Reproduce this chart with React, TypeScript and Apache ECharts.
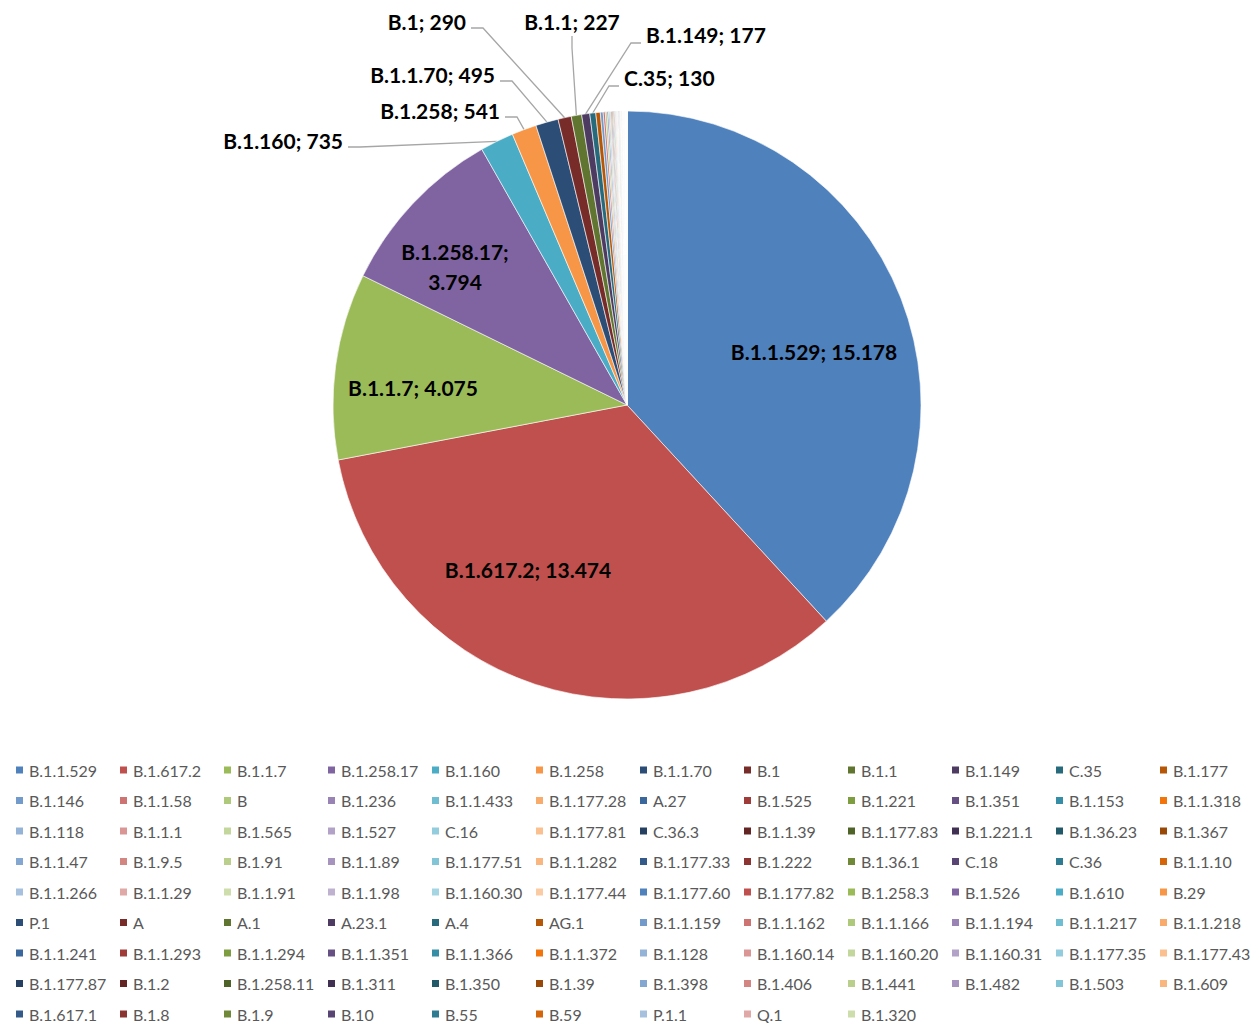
import React, { useEffect, useRef } from "react";
import * as echarts from "echarts";

const categories: string[] = [
  "B.1.1.529", "B.1.617.2", "B.1.1.7", "B.1.258.17", "B.1.160", "B.1.258", "B.1.1.70", "B.1", "B.1.1", "B.1.149", "C.35", "B.1.177",
  "B.1.146", "B.1.1.58", "B", "B.1.236", "B.1.1.433", "B.1.177.28", "A.27", "B.1.525", "B.1.221", "B.1.351", "B.1.153", "B.1.1.318",
  "B.1.118", "B.1.1.1", "B.1.565", "B.1.527", "C.16", "B.1.177.81", "C.36.3", "B.1.1.39", "B.1.177.83", "B.1.221.1", "B.1.36.23", "B.1.367",
  "B.1.1.47", "B.1.9.5", "B.1.91", "B.1.1.89", "B.1.177.51", "B.1.1.282", "B.1.177.33", "B.1.222", "B.1.36.1", "C.18", "C.36", "B.1.1.10",
  "B.1.1.266", "B.1.1.29", "B.1.1.91", "B.1.1.98", "B.1.160.30", "B.1.177.44", "B.1.177.60", "B.1.177.82", "B.1.258.3", "B.1.526", "B.1.610", "B.29",
  "P.1", "A", "A.1", "A.23.1", "A.4", "AG.1", "B.1.1.159", "B.1.1.162", "B.1.1.166", "B.1.1.194", "B.1.1.217", "B.1.1.218",
  "B.1.1.241", "B.1.1.293", "B.1.1.294", "B.1.1.351", "B.1.1.366", "B.1.1.372", "B.1.128", "B.1.160.14", "B.1.160.20", "B.1.160.31", "B.1.177.35", "B.1.177.43",
  "B.1.177.87", "B.1.2", "B.1.258.11", "B.1.311", "B.1.350", "B.1.39", "B.1.398", "B.1.406", "B.1.441", "B.1.482", "B.1.503", "B.1.609",
  "B.1.617.1", "B.1.8", "B.1.9", "B.10", "B.55", "B.59", "P.1.1", "Q.1", "B.1.320",
];

const values: number[] = [
  15178, 13474, 4075, 3794, 735, 541, 495, 290, 227, 177, 130, 98,
  62, 45, 38, 33, 28, 25, 22, 20, 18, 16, 14, 13,
  12, 11, 10, 9, 9, 8, 8, 7, 7, 6, 6, 6,
  5, 5, 5, 5, 4, 4, 4, 4, 4, 4, 3, 3,
  3, 3, 3, 3, 3, 3, 3, 3, 2, 2, 2, 2,
  2, 2, 2, 2, 2, 2, 2, 2, 2, 2, 2, 2,
  2, 2, 2, 2, 2, 1, 1, 1, 1, 1, 1, 1,
  1, 1, 1, 1, 1, 1, 1, 1, 1, 1, 1, 1,
  1, 1, 1, 1, 1, 1, 1, 1, 1,
];

const labeledCount = 11;
const insideCount = 4;

// label spots: [x, y, align] for labelled slices (style/position config)
const labelSpots: [number, number, string][] = [
  [814, 351, "center"],
  [528, 569, "center"],
  [413, 387, "center"],
  [455, 266, "center"],
  [343, 140, "right"],
  [500, 110, "right"],
  [495, 74, "right"],
  [466, 21, "right"],
  [572, 21, "center"],
  [646, 34, "left"],
  [624, 77, "left"],
];

const baseColors = ["#4F81BD", "#C0504D", "#9BBB59", "#8064A2", "#4BACC6", "#F79646"];
const lumVariants: [number, number][] = [
  [1, 0], [0.6, 0], [0.8, 0.2], [0.8, 0], [0.6, 0.4], [0.5, 0], [0.7, 0.3], [0.7, 0], [0.5, 0.5],
];

function hexToHsl(hex: string): [number, number, number] {
  const r = parseInt(hex.slice(1, 3), 16) / 255;
  const g = parseInt(hex.slice(3, 5), 16) / 255;
  const b = parseInt(hex.slice(5, 7), 16) / 255;
  const mx = Math.max(r, g, b), mn = Math.min(r, g, b);
  const l = (mx + mn) / 2;
  const d = mx - mn;
  let h = 0, s = 0;
  if (d > 0) {
    s = d / (1 - Math.abs(2 * l - 1));
    if (mx === r) h = 60 * (((g - b) / d + 6) % 6);
    else if (mx === g) h = 60 * ((b - r) / d + 2);
    else h = 60 * ((r - g) / d + 4);
  }
  return [h, s, l];
}
function hslToHex(h: number, s: number, l: number): string {
  const c = (1 - Math.abs(2 * l - 1)) * s;
  const x = c * (1 - Math.abs(((h / 60) % 2) - 1));
  const m = l - c / 2;
  let r = 0, g = 0, b = 0;
  if (h < 60) [r, g, b] = [c, x, 0];
  else if (h < 120) [r, g, b] = [x, c, 0];
  else if (h < 180) [r, g, b] = [0, c, x];
  else if (h < 240) [r, g, b] = [0, x, c];
  else if (h < 300) [r, g, b] = [x, 0, c];
  else [r, g, b] = [c, 0, x];
  const to = (v: number) => Math.round(Math.min(1, Math.max(0, v + m)) * 255).toString(16).padStart(2, "0");
  return "#" + to(r) + to(g) + to(b);
}
const palette: string[] = [];
lumVariants.forEach(([mod, off]) => {
  baseColors.forEach((c) => {
    const [h, s, l] = hexToHsl(c);
    palette.push(hslToHex(h, s, Math.min(1, l * mod + off)));
  });
});

const fmt = (n: number) => String(n).replace(/\B(?=(\d{3})+(?!\d))/g, ".");

export default function App() {
  const ref = useRef<HTMLDivElement>(null);
  useEffect(() => {
    if (!ref.current) return;
    const chart = echarts.init(ref.current, undefined, { renderer: "svg" });
    const data = categories.map((name, i) => ({
      name,
      value: values[i],
      itemStyle: { color: palette[i % palette.length] },
      label: { show: i < labeledCount },
      labelLine: { show: i >= insideCount && i < labeledCount },
    }));
    chart.setOption({
      animation: false,
      backgroundColor: "#ffffff",
      legend: {
        data: categories,
        orient: "horizontal",
        left: 14,
        top: 760.5,
        width: 1250,
        padding: 0,
        itemWidth: 9,
        itemHeight: 9,
        itemGap: 11.5,
        icon: "rect",
        selectedMode: false,
        textStyle: {
          fontFamily: "Lato",
          fontSize: 16,
          color: "#595959",
          width: 77.5,
          lineHeight: 19,
          overflow: "none",
        },
      },
      series: [
        {
          type: "pie",
          center: [627, 405],
          radius: 294,
          startAngle: 90,
          clockwise: true,
          avoidLabelOverlap: false,
          itemStyle: { borderColor: "#ffffff", borderWidth: 0.6 },
          emphasis: { disabled: true },
          label: {
            position: "outside",
            fontFamily: "Lato",
            fontSize: 21,
            fontWeight: "bold",
            color: "#000000",
            lineHeight: 30,
            formatter: (p: any) =>
              p.dataIndex === 3 ? `${p.name};\n${fmt(p.value)}` : `${p.name}; ${fmt(p.value)}`,
          },
          labelLine: {
            lineStyle: { color: "#A6A6A6", width: 1.3 },
            length: 10,
            length2: 10,
          },
          labelLayout: (params: any) => {
            const i = params.dataIndex;
            const spot = labelSpots[i];
            if (!spot) return {};
            const [x, y, align] = spot;
            const out: any = { x, y, align, verticalAlign: "middle" };
            if (i >= insideCount) {
              const pts = params.labelLinePoints;
              const edge = pts && pts[0] ? pts[0] : [x, y];
              let end: number[];
              let elbow: number[];
              if (align === "right") {
                end = [x + 5, y + 7];
                elbow = [x + 17, y + 7];
              } else if (align === "left") {
                end = [x - 5, y + 9];
                elbow = [x - 15, y + 9];
              } else {
                end = [x, y + 15];
                elbow = [x, y + 27];
              }
              out.labelLinePoints = [edge, elbow, end];
            }
            return out;
          },
          data,
        },
      ],
    });
    return () => chart.dispose();
  }, []);
  return (
    <div
      ref={ref}
      style={{ position: "absolute", left: 0, top: 0, width: 1255, height: 1023, background: "#fff" }}
    />
  );
}
